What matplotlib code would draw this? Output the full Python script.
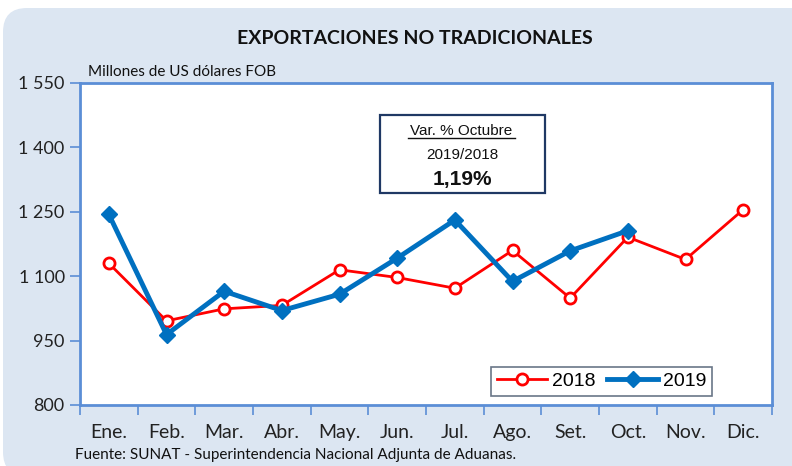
import matplotlib
matplotlib.use("Agg")
import matplotlib.pyplot as plt
from matplotlib.patches import FancyBboxPatch, Rectangle
from matplotlib.transforms import IdentityTransform
import numpy as np

months = ["Ene.", "Feb.", "Mar.", "Abr.", "May.", "Jun.", "Jul.", "Ago.", "Set.", "Oct.", "Nov.", "Dic."]
v2018 = [1130, 996, 1024, 1032, 1115, 1097, 1072, 1160, 1049, 1191, 1139, 1255]
v2019 = [1244, 964, 1065, 1020, 1058, 1142, 1231, 1088, 1159, 1206]
yticks = [800, 950, 1100, 1250, 1400, 1550]
ytick_labels = ["800", "950", "1 100", "1 250", "1 400", "1 550"]

W, H = 792, 466
fig = plt.figure(figsize=(W / 100, H / 100), dpi=100)
fig.patch.set_facecolor("white")

panel_color = "#DCE6F2"
bg = FancyBboxPatch((3, -10), W + 20, H - 8 + 10,
                    boxstyle="round,pad=0,rounding_size=24",
                    transform=IdentityTransform(), facecolor=panel_color,
                    edgecolor="none", zorder=-10)
fig.add_artist(bg)

ax = fig.add_axes([80 / W, 1 - 405 / H, (772 - 80) / W, (405 - 83) / H])
ax.set_facecolor("white")
frame_color = "#5B8ED6"
for s in ax.spines.values():
    s.set_color(frame_color)
    s.set_linewidth(2)

x19 = np.arange(len(v2019))
x18 = np.arange(len(v2018))
ax.plot(x18, v2018, color="#FF0000", lw=2, marker="o", ms=8,
        mfc="white", mec="#FF0000", mew=2, label="2018", zorder=3)
ax.plot(x19, v2019, color="#0070C0", lw=3.5, marker="D", ms=8,
        mfc="#0070C0", mec="#0070C0", label="2019", zorder=4)

ax.set_xlim(-0.5, 11.5)
ax.set_ylim(800, 1550)
ax.set_yticks(yticks)
ax.set_yticklabels(ytick_labels, fontsize=13, family=["Lato", "DejaVu Sans"], color="#222222")
ax.set_xticks(np.arange(-0.5, 12, 1))
ax.set_xticklabels([])
ax.set_xticks(np.arange(12), minor=True)
ax.set_xticklabels(months, minor=True, fontsize=14,
                   family=["Lato", "DejaVu Sans"], color="#222222")
ax.tick_params(axis="x", which="major", direction="out", length=7, width=1.2, color=frame_color)
ax.tick_params(axis="x", which="minor", length=0, pad=14)
ax.tick_params(axis="y", direction="out", length=7, width=1.2, color=frame_color, pad=4)

leg = ax.legend(loc="lower right", bbox_to_anchor=((712 - 80) / 692, (405 - 396) / 322),
                ncol=2, frameon=True, fancybox=False,
                prop={"family": ["Liberation Sans", "DejaVu Sans"], "size": 14},
                handlelength=2.6, columnspacing=0.6, handletextpad=0.25,
                borderpad=0.3, borderaxespad=0)
leg.get_frame().set_edgecolor("#44546A")
leg.get_frame().set_linewidth(1.2)

# annotation box
box = Rectangle((380, H - 193), 165, 78, transform=IdentityTransform(),
                facecolor="white", edgecolor="#1F3864", lw=1.6, zorder=5)
fig.add_artist(box)
fig.text(461.5 / W, 1 - 131 / H, "Var. % Octubre", ha="center", va="center",
         fontsize=11, family=["Liberation Sans", "DejaVu Sans"], color="#111111", zorder=6)
fig.add_artist(plt.Line2D([408 / W, 515 / W], [1 - 137.5 / H, 1 - 137.5 / H],
                          color="#111111", lw=1, zorder=6))
fig.text(462.5 / W, 1 - 155 / H, "2019/2018", ha="center", va="center",
         fontsize=11, family=["Liberation Sans", "DejaVu Sans"], color="#111111", zorder=6)
fig.text(462.5 / W, 1 - 179 / H, "1,19%", ha="center", va="center",
         fontsize=15, fontweight="bold", family=["Liberation Sans", "DejaVu Sans"],
         color="#111111", zorder=6)

fig.text(415 / W, 1 - 38 / H, "EXPORTACIONES NO TRADICIONALES", ha="center", va="center",
         fontsize=14, fontweight="bold", family=["Lato", "DejaVu Sans"], color="#111111")
fig.text(88 / W, 1 - 72 / H, "Millones de US dólares FOB", ha="left", va="center",
         fontsize=11, family=["Lato", "DejaVu Sans"], color="#111111")
fig.text(75 / W, 1 - 455 / H, "Fuente: SUNAT - Superintendencia Nacional Adjunta de Aduanas.",
         ha="left", va="center", fontsize=11, family=["Lato", "DejaVu Sans"], color="#111111")

fig.savefig("out.png", dpi=100, facecolor=fig.get_facecolor())
